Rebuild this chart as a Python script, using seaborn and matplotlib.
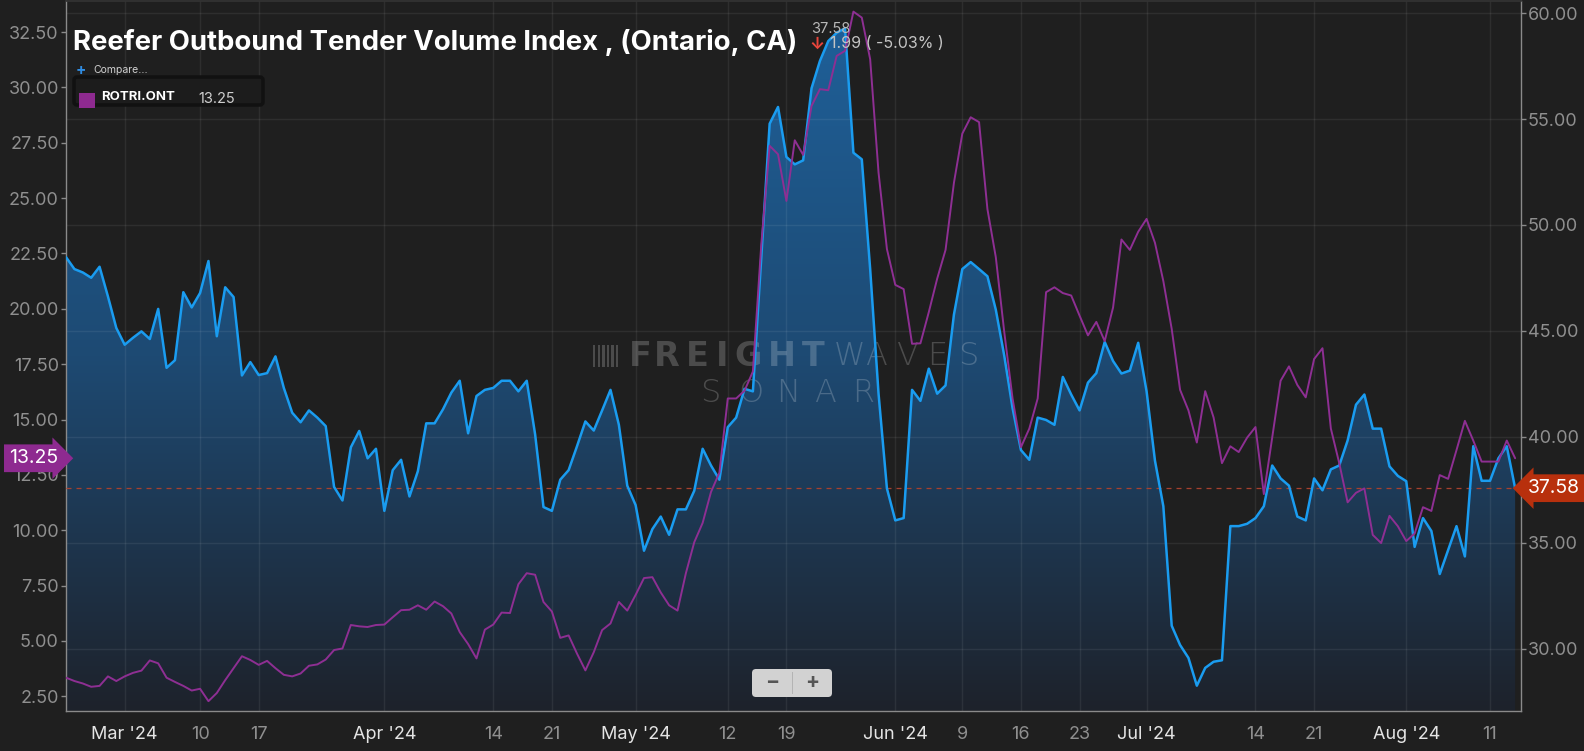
import numpy as np
import pandas as pd
import matplotlib.pyplot as plt
plt.switch_backend('agg')
import matplotlib.dates as mdates
import matplotlib.transforms as mtransforms
from matplotlib.colors import LinearSegmentedColormap
from matplotlib.patches import FancyBboxPatch, Rectangle
import seaborn as sns


#####################################################
# DATA (daily)

start_day = "2024-02-23"

# Reefer Outbound Tender Volume Index, Ontario CA (right axis)
tvi_values = [
	48.48, 47.92, 47.76, 47.51, 48.03, 46.63, 45.14, 44.35, 44.68, 44.98,
	44.62, 46.04, 43.26, 43.62, 46.83, 46.11, 46.79, 48.30, 44.75, 47.06,
	46.60, 42.90, 43.53, 42.92, 43.01, 43.80, 42.31, 41.14, 40.69, 41.25,
	40.91, 40.51, 37.64, 37.00, 39.51, 40.28, 38.99, 39.44, 36.51, 38.43,
	38.92, 37.19, 38.38, 40.64, 40.64, 41.30, 42.09, 42.65, 40.17, 41.93,
	42.22, 42.31, 42.65, 42.65, 42.15, 42.65, 40.12, 36.69, 36.51, 37.98,
	38.43, 39.56, 40.73, 40.30, 41.25, 42.22, 40.57, 37.70, 36.78, 34.63,
	35.65, 36.24, 35.38, 36.58, 36.58, 37.46, 39.44, 38.65, 37.98, 40.46,
	40.91, 42.27, 42.15, 48.46, 54.78, 55.57, 53.21, 52.86, 53.05, 56.45,
	57.74, 58.68, 59.07, 59.28, 53.41, 53.10, 47.92, 42.04, 37.57, 36.06,
	36.17, 42.22, 41.70, 43.22, 42.04, 42.43, 45.77, 47.92, 48.25, 47.92,
	47.58, 46.00, 43.85, 41.36, 39.38, 38.92, 40.91, 40.80, 40.57, 42.83,
	42.00, 41.25, 42.56, 43.01, 44.48, 43.58, 42.99, 43.13, 44.44, 42.15,
	38.88, 36.73, 31.09, 30.18, 29.57, 28.26, 29.10, 29.39, 29.46, 35.79,
	35.79, 35.90, 36.17, 36.73, 38.65, 38.04, 37.70, 36.24, 36.06, 38.04,
	37.48, 38.47, 38.65, 39.83, 41.52, 42.00, 40.39, 40.39, 38.61, 38.16,
	37.91, 34.81, 36.17, 35.56, 33.53, 34.66, 35.79, 34.36, 39.56, 37.93,
	37.93, 38.99, 39.56, 37.58,
]

# ROTRI.ONT (left axis)
rotri_values = [
	3.34, 3.19, 3.08, 2.93, 2.97, 3.40, 3.19, 3.40, 3.56, 3.66,
	4.12, 3.99, 3.34, 3.15, 2.97, 2.76, 2.84, 2.28, 2.65, 3.23,
	3.77, 4.31, 4.14, 3.92, 4.10, 3.77, 3.47, 3.40, 3.53, 3.88,
	3.94, 4.16, 4.59, 4.66, 5.72, 5.66, 5.63, 5.72, 5.74, 6.07,
	6.39, 6.41, 6.61, 6.41, 6.78, 6.57, 6.24, 5.40, 4.86, 4.21,
	5.51, 5.74, 6.28, 6.26, 7.56, 8.06, 7.99, 6.76, 6.33, 5.14,
	5.25, 4.43, 3.67, 4.49, 5.49, 5.79, 6.76, 6.37, 7.08, 7.84,
	7.88, 7.19, 6.61, 6.37, 8.06, 9.46, 10.33, 11.73, 12.60, 15.95,
	15.95, 16.30, 17.17, 22.90, 27.36, 26.98, 24.87, 27.61, 26.95, 29.16,
	29.92, 29.87, 31.42, 31.65, 33.42, 33.15, 31.27, 26.15, 22.70, 21.08,
	20.89, 18.42, 18.44, 19.85, 21.36, 22.66, 25.69, 27.91, 28.65, 28.43,
	24.50, 22.33, 18.98, 15.95, 13.75, 14.59, 15.95, 20.75, 20.97, 20.71,
	20.60, 19.69, 18.80, 19.41, 18.54, 20.06, 23.13, 22.66, 23.48, 24.06,
	22.98, 21.25, 19.09, 16.34, 15.41, 13.96, 16.28, 15.09, 13.03, 13.79,
	13.53, 14.18, 14.66, 11.63, 14.18, 16.75, 17.40, 16.56, 16.00, 17.73,
	18.22, 14.59, 13.03, 11.26, 11.69, 11.89, 9.79, 9.42, 10.65, 10.18,
	9.51, 9.85, 11.04, 10.87, 12.49, 12.32, 13.62, 14.94, 14.05, 13.10,
	13.10, 13.10, 14.05, 13.25,
]

month_ticks = ["2024-03-01", "2024-04-01", "2024-05-01", "2024-06-01", "2024-07-01", "2024-08-01"]
month_labels = ["Mar '24", "Apr '24", "May '24", "Jun '24", "Jul '24", "Aug '24"]
day_ticks = ["2024-03-10", "2024-03-17", "2024-04-14", "2024-04-21", "2024-05-12", "2024-05-19",
	"2024-06-09", "2024-06-16", "2024-06-23", "2024-07-14", "2024-07-21", "2024-08-11"]
day_labels = ["10", "17", "14", "21", "12", "19", "9", "16", "23", "14", "21", "11"]

left_ticks = [2.5, 5, 7.5, 10, 12.5, 15, 17.5, 20, 22.5, 25, 27.5, 30, 32.5]
right_ticks = [30, 35, 40, 45, 50, 55, 60]

title = "Reefer Outbound Tender Volume Index , (Ontario, CA)"
last_tvi = "37.58"
change_txt = "1.99 ( -5.03% )"
last_rotri = "13.25"

#####################################################

days = pd.date_range(start_day, periods=len(tvi_values), freq="D")
df = pd.DataFrame({"date": days, "tvi": tvi_values, "rotri": rotri_values})

sns.set_theme(style="dark")
plt.rcParams["font.family"] = ["Inter", "DejaVu Sans"]

bg = "#1f1f1f"
spine_c = "#8a8a8a"
tick_txt = "#8f8f8f"
blue = "#1a9cf0"
purple = "#8e2f93"

W, H = 1584, 751
fig = plt.figure(figsize=(W / 100, H / 100), dpi=100, facecolor=bg)
# pixel coords of the reference (y going down)
px = mtransforms.Affine2D().scale(1 / W, -1 / H).translate(0, 1) + fig.transFigure

left_px, right_px, top_px, bot_px = 65.7, 1521, 1, 710.7
ax = fig.add_axes([left_px / W, 1 - bot_px / H, (right_px - left_px) / W, (bot_px - top_px) / H])
ax.set_facecolor(bg)

y2_lo, y2_hi = 27.08, 60.57
y1_lo, y1_hi = 1.85, 33.9

#main series with gradient fill
sns.lineplot(data=df, x="date", y="tvi", ax=ax, color=blue, lw=1.8, zorder=4)
fill = ax.fill_between(df["date"], df["tvi"], y2_lo, facecolor="none", edgecolor="none")
xn = mdates.date2num(days)
grad = np.linspace(0, 1, 256).reshape(-1, 1)
cmap = LinearSegmentedColormap.from_list("tvi_fill", ["#1e222b", "#1d4a73", "#1f619b"])
img = ax.imshow(grad, extent=[xn[0], xn[-1], y2_lo, y2_hi], origin="lower", aspect="auto", cmap=cmap, zorder=0.2)
img.set_clip_path(fill.get_paths()[0], transform=ax.transData)

ax.axhline(37.58, color="#a8402e", lw=0.9, ls=(0, (4, 4)), zorder=3)

#comparison series
ax2 = ax.twinx()
sns.lineplot(data=df, x="date", y="rotri", ax=ax2, color=purple, lw=1.4)

ax.set_xlim(days[0] - pd.Timedelta(hours=1), days[0] + pd.Timedelta(days=173.7))
ax.set_ylim(y2_lo, y2_hi)
ax2.set_ylim(y1_lo, y1_hi)
ax.set_xlabel("")
ax.set_ylabel("")
ax2.set_xlabel("")
ax2.set_ylabel("")

#axes / ticks
ax.yaxis.tick_right()
ax2.yaxis.tick_left()
ax.set_yticks(right_ticks)
ax.set_yticklabels(["%.2f" % v for v in right_ticks])
ax2.set_yticks(left_ticks)
ax2.set_yticklabels(["%.2f" % v for v in left_ticks])

xt = [pd.Timestamp(d) for d in month_ticks + day_ticks]
xl = month_labels + day_labels
order = np.argsort(xt)
ax.set_xticks([xt[k] for k in order])
ax.set_xticklabels([xl[k] for k in order])
for lab in ax.get_xticklabels():
	lab.set_color("#e4e4e4" if "'" in lab.get_text() else tick_txt)

ax.tick_params(axis="x", length=3, width=1, color=spine_c, labelsize=13, pad=8)
ax.tick_params(axis="y", length=3.5, width=1, color=spine_c, labelcolor=tick_txt, labelsize=13, pad=1.5,
	right=True, left=False, labelright=True, labelleft=False)
ax2.tick_params(axis="y", length=3.5, width=1, color=spine_c, labelcolor=tick_txt, labelsize=13, pad=1.5,
	left=True, right=False, labelleft=True, labelright=False)

ax.set_axisbelow(True)
ax.grid(True, color="white", alpha=0.07, lw=1)
ax2.grid(False)
for side in ["left", "right", "bottom"]:
	ax.spines[side].set_color(spine_c)
	ax.spines[side].set_linewidth(1)
ax.spines["top"].set_color("#333333")
for side in ax2.spines:
	ax2.spines[side].set_visible(False)

#value tags
ax2.text(-0.0053, 13.25, last_rotri, transform=ax2.get_yaxis_transform(), ha="right", va="center",
	color="white", fontsize=14, zorder=10, clip_on=False,
	bbox=dict(boxstyle="rarrow,pad=0.25", fc="#8e2a90", ec="none"))
ax.text(1.0048, 37.58, last_tvi, transform=ax.get_yaxis_transform(), ha="left", va="center",
	color="white", fontsize=14, zorder=10, clip_on=False,
	bbox=dict(boxstyle="larrow,pad=0.25", fc="#b8300d", ec="none"))

#watermark (between fill and lines)
wm = dict(transform=px, color="white", alpha=0.2, zorder=2, ha="left", va="center", clip_on=False)
freight_x = [629, 654, 686, 716, 734, 768, 802]
for ch, x in zip("FREIGHT", freight_x):
	ax.text(x, 356, ch, fontsize=24, fontweight="bold", family="DejaVu Sans", **wm)
for k, ch in enumerate("WAVES"):
	ax.text(834 + k * 31, 356, ch, fontsize=23, fontweight="light", family="DejaVu Sans", **wm)
for k, ch in enumerate("SONAR"):
	ax.text(700 + k * 38, 393, ch, fontsize=23, fontweight="light", family="DejaVu Sans", **wm)
for k in range(6):
	bar = Rectangle((593 + k * 4.6, 345), 2.4, 22, transform=px, fc="white", alpha=0.2, ec="none", zorder=2)
	bar.set_clip_on(False)
	ax.add_artist(bar)

#header
fig.text(73, 43, title, transform=px, fontsize=19.8, fontweight="bold", color="white", va="center")
fig.text(811, 29, last_tvi, transform=px, fontsize=10.5, color="#b8b8b8", va="center")
fig.text(817, 44, "\u2193", transform=px, fontsize=12, fontweight="bold", color="#e8453c", va="center", ha="center")
fig.text(830, 44, change_txt, transform=px, fontsize=11.5, color="#c4c4c4", va="center")

fig.text(81, 70, "+", transform=px, fontsize=11, fontweight="bold", color="#2f8de4", va="center", ha="center")
fig.text(93, 70, "Compare...", transform=px, fontsize=7.5, color="#cfcfcf", va="center")

fig.patches.append(FancyBboxPatch((74, 77), 189, 28, boxstyle="round,pad=0,rounding_size=3",
	transform=px, fc="#1c1c1c", ec="#111111", lw=2.5, figure=fig))
fig.patches.append(Rectangle((79, 93), 16, 15, transform=px, fc="#8e2a90", ec="none", figure=fig))
fig.text(101, 97, "ROTRI.ONT", transform=px, fontsize=9.5, fontweight="bold", color="white", va="center")
fig.text(198, 99, last_rotri, transform=px, fontsize=10.5, color="#cfcfcf", va="center")

#zoom buttons
fig.patches.append(FancyBboxPatch((752, 669), 80, 28, boxstyle="round,pad=0,rounding_size=4",
	transform=px, fc="#d2d2d2", ec="none", figure=fig, zorder=5))
fig.patches.append(Rectangle((791.5, 672), 1, 22, transform=px, fc="#b4b4b4", ec="none", figure=fig, zorder=6))
fig.text(772, 682, "\u2212", transform=px, fontsize=15, fontweight="bold", color="#555555", va="center", ha="center", zorder=7)
fig.text(812, 682, "+", transform=px, fontsize=15, fontweight="bold", color="#555555", va="center", ha="center", zorder=7)

fig.savefig("out.png", dpi=100, facecolor=bg)
